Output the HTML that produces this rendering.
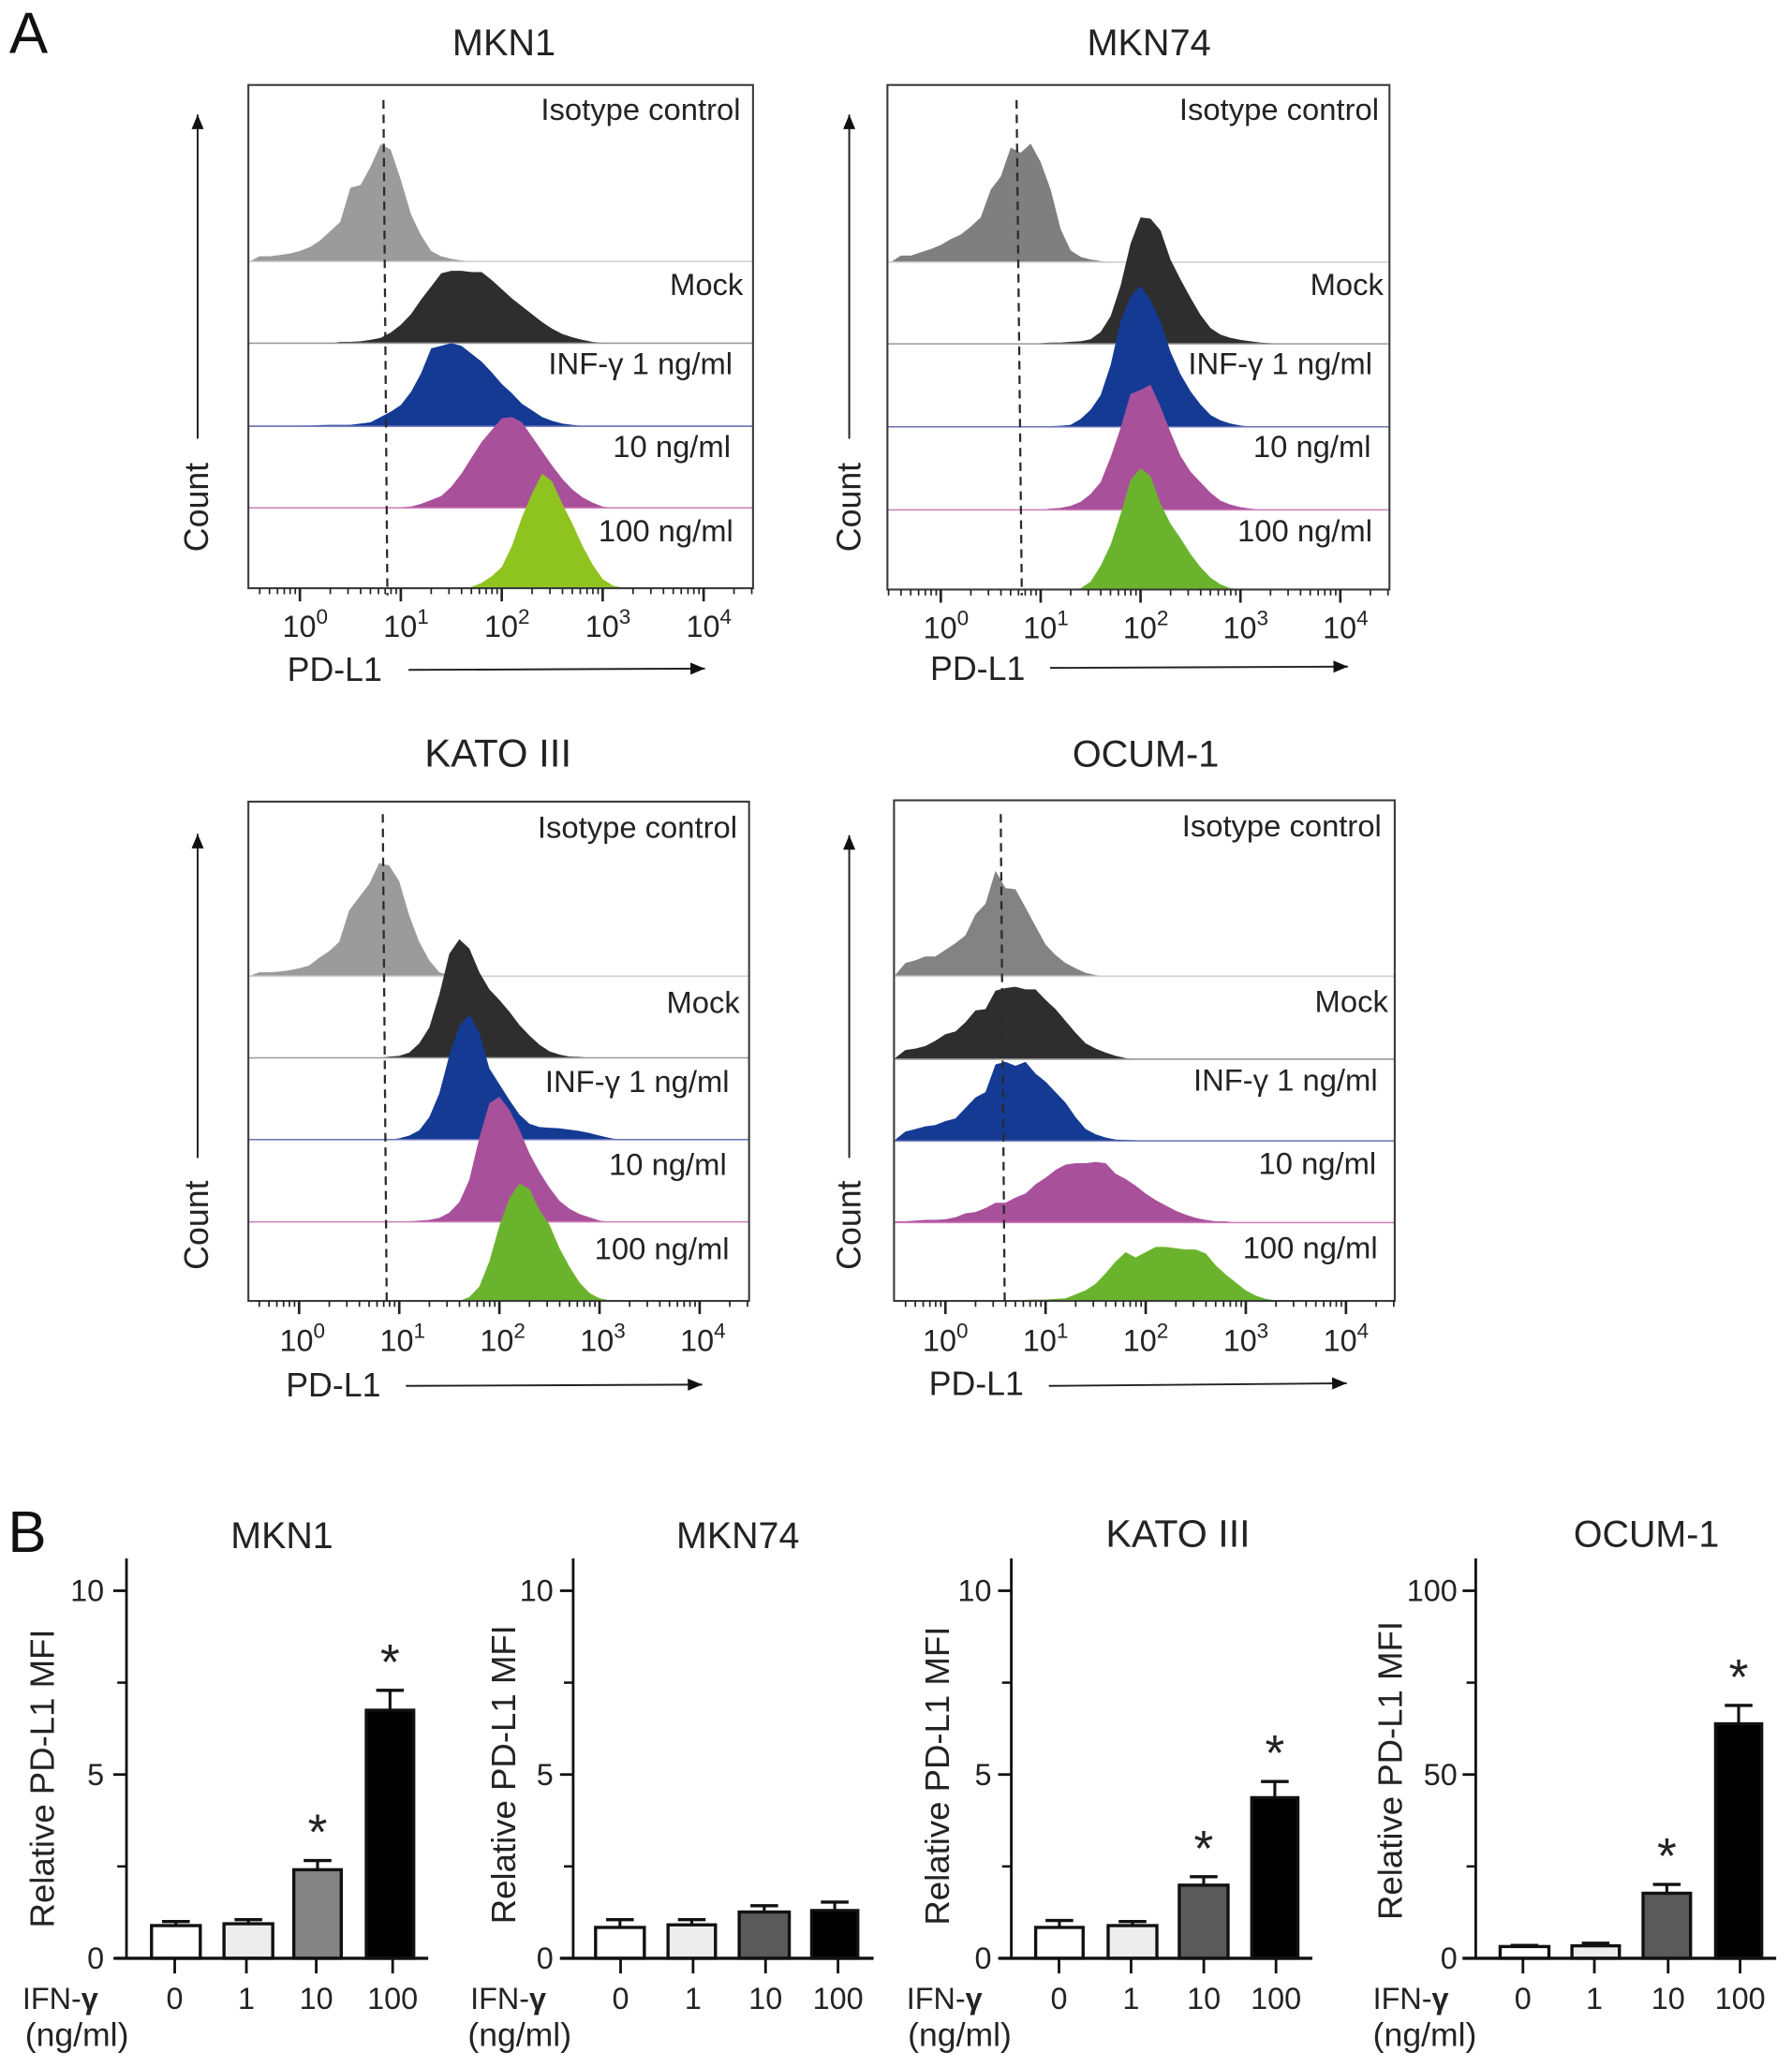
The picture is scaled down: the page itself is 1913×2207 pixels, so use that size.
<!DOCTYPE html>
<html lang="en">
<head>
<meta charset="utf-8">
<title>PD-L1 flow cytometry histograms and relative MFI</title>
<style>
html,body{margin:0;padding:0;background:#fff;}
svg{display:block;width:1913px;height:2207px;}
text{font-family:"Liberation Sans",sans-serif;fill:#232323;}
.title{font-size:28.2px;text-anchor:middle;}
.lane{font-size:23.3px;text-anchor:end;}
.axis-label{font-size:25.4px;}
.panel-letter{font-size:44px;fill:#111;}
.bar-title{font-size:28px;text-anchor:middle;}
.bar-ylabel{font-size:26px;text-anchor:middle;}
.ifn{font-size:23px;}
.unit{font-size:25.3px;}
</style>
</head>
<body>
<svg xmlns="http://www.w3.org/2000/svg" viewBox="0 0 1360 1569">
  <rect x="0" y="0" width="1360" height="1569" fill="#fff"/>
  <text class="panel-letter" x="7" y="40">A</text>
  <text class="panel-letter" x="6" y="1178">B</text>

  <g id="hist-mkn1"></g>
  <g id="hist-mkn74"></g>
  <g id="hist-kato"></g>
  <g id="hist-ocum"></g>

  <g>
    <text class="title" x="382.5" y="42">MKN1</text>
    <text class="lane" x="562" y="91">Isotype control</text>
    <text class="lane" x="564" y="224">Mock</text>
    <text class="lane" x="556" y="284">INF-γ 1 ng/ml</text>
    <text class="lane" x="554.5" y="347">10 ng/ml</text>
    <text class="lane" x="556.5" y="411">100 ng/ml</text>
    <text class="axis-label" x="218" y="517">PD-L1</text>
    <text class="axis-label" transform="translate(158,385) rotate(-90)" text-anchor="middle">Count</text>
  </g>
  <g>
    <text class="title" x="872" y="42">MKN74</text>
    <text class="lane" x="1046.5" y="91">Isotype control</text>
    <text class="lane" x="1050" y="224">Mock</text>
    <text class="lane" x="1041.5" y="284">INF-γ 1 ng/ml</text>
    <text class="lane" x="1040.5" y="347">10 ng/ml</text>
    <text class="lane" x="1041.5" y="411">100 ng/ml</text>
    <text class="axis-label" x="706" y="516">PD-L1</text>
    <text class="axis-label" transform="translate(653,385) rotate(-90)" text-anchor="middle">Count</text>
  </g>
  <g>
    <text class="title" x="378" y="582" style="font-size:29.8px">KATO III</text>
    <text class="lane" x="559.5" y="636">Isotype control</text>
    <text class="lane" x="561.5" y="769">Mock</text>
    <text class="lane" x="553.5" y="829">INF-γ 1 ng/ml</text>
    <text class="lane" x="551.5" y="892">10 ng/ml</text>
    <text class="lane" x="553.5" y="956">100 ng/ml</text>
    <text class="axis-label" x="217" y="1060">PD-L1</text>
    <text class="axis-label" transform="translate(158,930) rotate(-90)" text-anchor="middle">Count</text>
  </g>
  <g>
    <text class="title" x="869.5" y="582">OCUM-1</text>
    <text class="lane" x="1048.5" y="635">Isotype control</text>
    <text class="lane" x="1053.5" y="768">Mock</text>
    <text class="lane" x="1045.5" y="828">INF-γ 1 ng/ml</text>
    <text class="lane" x="1044.5" y="891">10 ng/ml</text>
    <text class="lane" x="1045.5" y="955">100 ng/ml</text>
    <text class="axis-label" x="705" y="1059">PD-L1</text>
    <text class="axis-label" transform="translate(653,930) rotate(-90)" text-anchor="middle">Count</text>
  </g>

  <g id="bars-mkn1"></g>
  <g id="bars-mkn74"></g>
  <g id="bars-kato"></g>
  <g id="bars-ocum"></g>

  <g>
    <text class="bar-title" x="214" y="1175">MKN1</text>
    <text class="bar-ylabel" transform="translate(41,1350) rotate(-90)">Relative PD-L1 MFI</text>
    <text class="ifn" x="17" y="1525">IFN-<tspan font-weight="bold">γ</tspan></text>
    <text class="unit" x="19" y="1553">(ng/ml)</text>
  </g>
  <g>
    <text class="bar-title" x="560" y="1175">MKN74</text>
    <text class="bar-ylabel" transform="translate(391,1347) rotate(-90)">Relative PD-L1 MFI</text>
    <text class="ifn" x="357" y="1525">IFN-<tspan font-weight="bold">γ</tspan></text>
    <text class="unit" x="355" y="1553">(ng/ml)</text>
  </g>
  <g>
    <text class="bar-title" x="894" y="1174" style="font-size:29.3px">KATO III</text>
    <text class="bar-ylabel" transform="translate(720,1348) rotate(-90)">Relative PD-L1 MFI</text>
    <text class="ifn" x="688" y="1525">IFN-<tspan font-weight="bold">γ</tspan></text>
    <text class="unit" x="689" y="1553">(ng/ml)</text>
  </g>
  <g>
    <text class="bar-title" x="1249.5" y="1174">OCUM-1</text>
    <text class="bar-ylabel" transform="translate(1064,1344) rotate(-90)">Relative PD-L1 MFI</text>
    <text class="ifn" x="1042" y="1525">IFN-<tspan font-weight="bold">γ</tspan></text>
    <text class="unit" x="1042" y="1553">(ng/ml)</text>
  </g>
</svg>

<script>
// ---- Histogram data: log10 fluorescence bins and event counts per bin ----
const fluorBins = [-0.5,-0.4,-0.3,-0.2,-0.1,0,0.1,0.2,0.3,0.4,0.5,0.6,0.7,0.8,0.9,1,1.1,1.2,1.3,1.4,1.5,1.6,1.7,1.8,1.9,2,2.1,2.2,2.3,2.4,2.5,2.6,2.7,2.8,2.9,3,3.1,3.2,3.3,3.4,3.5];
const decadeExponents = [0,1,2,3,4];
const minorMultipliers = [2,3,4,5,6,7,8,9];

const mkn1Isotype = [0,4,4,5,6,8,11,16,23,30,56,58,72,89,85,62,36,20,8,4,2,0.8,0.3];
const mkn1Mock = [0,0,0,0,0,0,0,0,0,1,1,1.5,2.5,4,8,14,22,33,43,53,55,55,54,54,48,41,34,28,22,16,11,7,4.5,2.5,1,0.3];
const mkn1Ifn1 = [0,0,0,0,0,0.5,0.5,0.8,1,1,1,2,3,7,11,16,26,40,59,61,63,61,55,49,41,32,25,17,12,7,4,2,1];
const mkn1Ifn10 = [0,0,0,0,0,0,0,0,0,0,0,0,0,0,0.5,0.5,1,3,6,9,16,26,38,50,59,68,69,65,54,43,32,22,14,8,4,1];
const mkn1Ifn100 = [0,0,0,0,0,0,0,0,0,0,0,0,0,0,0,0,0,0,0,0,0,0,1,4,9,16,32,54,72,87,81,64,49,32,18,7,2,0.5];

const mkn74Isotype = [0,5,5,7.5,10,13,17.5,21,27,34,55,65,87,83,90,76,55,25,9,4,2,0.8];
const mkn74Mock = [0,0,0,0,0,0,0,0,0,0,0,0,0,0,0,0.5,1,1,1.5,2,3.5,9,21,44,76,96,95,86,64,49,35,22,12,7,4.5,3,2,1,0.5];
const mkn74Ifn1 = [0,0,0,0,0,0,0,0,0,0,0,0,0,0,0,0,0.5,0.8,1.5,6,13,24,47,80,99,107,96,80,57,40,27,17,9,5,2.5,1,0.3];
const mkn74Ifn10 = [0,0,0,0,0,0,0,0,0,0,0,0,0,0,0,0,1,1.5,3,6,12,21,40,62,88,91,95,78,59,41,29,21,13,7,4,2,1];
const mkn74Ifn100 = [0,0,0,0,0,0,0,0,0,0,0,0,0,0,0,0,0,0,0,1,6,18,34,57,83,92,86,65,50,39,27,17,9,4,1];

const katoIsotype = [0,3,3,3.5,4.5,6,8,14,19,26,50,60,70,86,84,72,46,26,12,3,0.5];
const katoMock = [0,0,0,0,0,0,0,0,0,0,0,0,0,0,1,1.5,4,11,23,48,79,90,83,65,52,44,35,25,17,10,5,2.5,1,0.8];
const katoIfn1 = [0,0,0,0,0,0,0,0,0,0,0,0,0,0,0,1,3,7,17,35,64,86,95,81,54,42,30,19,12,9.5,9,8.5,7.5,6.5,5,3,1.2];
const katoIfn10 = [0,0,0,0,0,0,0,0,0,0,0,0,0,0,0,0,0.5,1,1.5,3,7,15,32,64,90,95,85,70,52,38,26,16,10,6,3.5,1];
const katoIfn100 = [0,0,0,0,0,0,0,0,0,0,0,0,0,0,0,0,0,0,0,0,0,0,3,11,30,57,78,89,85,69,58,40,26,14,6,2,0.5];

const ocumIsotype = [1,10,12,15,15,20,25,31,47,55,80,67,66,52,38,24,16,10,6,2.5,0.8];
const ocumMock = [1,7,8,10,14,19,21,28,37,38,52,54,55,53,53,45,38,29,20,12,8,5,2.5,0.8];
const ocumIfn1 = [1,7,9,11,12,15,17,25,33,37,58,60,57,60,51,45,37,29,18,9,5,2.5,1,0.7,0.5];
const ocumIfn10 = [1,1,1.5,2,2,2.5,4,7,8,11,15,15,19,22,29,34,40,44,45,45,46,45,37,33,28,22,17,13,9,6,3.5,2,1,1];
const ocumIfn100 = [0,0,0,0,0,0,0,0,0,0,0,0,0.5,0.8,1,1,1.5,2,5,8,13,21,30,37,33,37,41,41,40,39,39,36,27,20,14,8,4,1.5,0.5];

// ---- Bar chart data ----
const doseLabels = ['0','1','10','100'];
const mkn1Mfi = [0.89,0.94,2.41,6.75];
const mkn1MfiTop = [1.0,1.05,2.66,7.29];
const mkn1Sig = [0,0,1,1];
const mkn74Mfi = [0.84,0.91,1.26,1.3];
const mkn74MfiTop = [1.05,1.05,1.43,1.53];
const mkn74Sig = [0,0,0,0];
const katoMfi = [0.84,0.89,1.99,4.37];
const katoMfiTop = [1.03,1.0,2.22,4.81];
const katoSig = [0,0,1,1];
const ocumMfi = [3.2,3.4,17.7,63.8];
const ocumMfiTop = [3.5,4.1,20.1,68.8];
const ocumSig = [0,0,1,1];
const yTicksTen = [0,5,10];
const yTicksHundred = [0,50,100];

const NS = 'http://www.w3.org/2000/svg';
function mk(tag, attrs, parent){
  const el = document.createElementNS(NS, tag);
  for (const k in attrs) el.setAttribute(k, attrs[k]);
  parent.appendChild(el);
  return el;
}

const laneFills = ['#939393','#2e2e2e','#143a94','#a9509b','#8fc31f'];
const laneEdges = ['#cfcfcf','#9a9a9a','#6670b8','#cf7cb8','#8fc31f'];

const histPanels = [
  {id:'hist-mkn1', l:188.5,r:571.5,t:64.5,b:446.5, x0:227.6,dec:76.6, labelDx:4, labelDy:37, bases:[198.5,260.5,323.5,385.5,446.5],
   dash:[291,76,294,452], isoFill:'#9b9b9b', green:'#8fc31f',
   series:[mkn1Isotype,mkn1Mock,mkn1Ifn1,mkn1Ifn10,mkn1Ifn100],
   up:[150,333,87], right:[310,508.5,535,507.5]},
  {id:'hist-mkn74', l:673.5,r:1054.5,t:64.5,b:447.5, x0:714,dec:75.8, labelDx:4, labelDy:37, bases:[199,261,324,387,447.5],
   dash:[771.5,76,775.5,452], isoFill:'#7f7f7f', green:'#6ab42d',
   series:[mkn74Isotype,mkn74Mock,mkn74Ifn1,mkn74Ifn10,mkn74Ifn100],
   up:[644.5,333,87], right:[797,507,1023,506]},
  {id:'hist-kato', l:188.5,r:568.5,t:608.5,b:987.5, x0:227,dec:76, labelDx:2.5, labelDy:38, bases:[741,803,865,927.5,987.5],
   dash:[290.5,618,293.5,991], isoFill:'#9b9b9b', green:'#6ab42d',
   series:[katoIsotype,katoMock,katoIfn1,katoIfn10,katoIfn100],
   up:[150,879,633], right:[308,1052,533,1051]},
  {id:'hist-ocum', l:678.5,r:1058.5,t:607.5,b:987.5, x0:717.5,dec:76, labelDx:0, labelDy:38, bases:[741,804,866,928,987.5],
   dash:[759.5,618,762.5,991], isoFill:'#838383', green:'#6ab42d',
   series:[ocumIsotype,ocumMock,ocumIfn1,ocumIfn10,ocumIfn100],
   up:[644.5,879,634], right:[796,1052,1022,1050]}
];

function drawArrow(g, x1, y1, x2, y2){
  const line = mk('line',{x1:x1,y1:y1,x2:x2,y2:y2,stroke:'#222','stroke-width':1.4},g);
  
  
  const a = Math.atan2(y2-y1,x2-x1), len=11, hw=4.6;
  const bx=x2-Math.cos(a)*len, by=y2-Math.sin(a)*len;
  const px=-Math.sin(a)*hw, py=Math.cos(a)*hw;
  const head = mk('polygon',{points:x2+','+y2+' '+(bx+px)+','+(by+py)+' '+(bx-px)+','+(by-py),fill:'#111'},g);
  
  
}

histPanels.forEach(function(p){
  const g = document.getElementById(p.id);
  const xScale = function(v){ return p.x0 + v*p.dec; };
  const yScale = function(c, base){ return base - c; };

  const plotBg = mk('rect',{x:p.l,y:p.t,width:p.r-p.l,height:p.b-p.t,fill:'#fff'},g);
  
  

  p.series.forEach(function(counts, s){
    const base = p.bases[s];
    const fill = s===0 ? p.isoFill : (s===4 ? p.green : laneFills[s]);
    const pts = [xScale(fluorBins[0])+','+base];
    fluorBins.forEach(function(bin,i){
      pts.push(xScale(bin).toFixed(1)+','+yScale(counts[i]||0,base).toFixed(1));
    });
    pts.push(xScale(fluorBins[fluorBins.length-1])+','+base);
    const poly = mk('polygon',{points:pts.join(' '),fill:fill},g);
    
    
    if (s<4){
      const bl = mk('line',{x1:p.l,x2:p.r,y1:base,y2:base,stroke:laneEdges[s],'stroke-width':1.1},g);
      
      
    }
  });

  const box = mk('rect',{x:p.l,y:p.t,width:p.r-p.l,height:p.b-p.t,fill:'none',stroke:'#3c3c3c','stroke-width':1.5},g);
  
  

  [-1].concat(decadeExponents).forEach(function(e){
    minorMultipliers.forEach(function(m){
      const v = e + Math.log10(m);
      if (xScale(v) < p.l || xScale(v) > p.r) return;
      const t = mk('line',{x1:xScale(v),x2:xScale(v),y1:p.b,y2:p.b+4.5,stroke:'#222','stroke-width':1.2},g);
      
      
    });
  });
  decadeExponents.forEach(function(e){
    const t = mk('line',{x1:xScale(e),x2:xScale(e),y1:p.b,y2:p.b+10,stroke:'#222','stroke-width':1.9},g);
    
    
    const lab = mk('text',{x:xScale(e)+p.labelDx,y:p.b+p.labelDy,'text-anchor':'middle','font-size':23},g);
    
    
    const ts1 = mk('tspan',{},lab);
    ts1.textContent = '10';
    const ts2 = mk('tspan',{dy:-10,'font-size':16},lab);
    ts2.textContent = String(e);
  });

  const dash = mk('line',{x1:p.dash[0],y1:p.dash[1],x2:p.dash[2],y2:p.dash[3],stroke:'#2a2a2a','stroke-width':1.6,'stroke-dasharray':'6.5 4.5'},g);
  
  

  drawArrow(g,p.up[0],p.up[1],p.up[0],p.up[2]);
  drawArrow(g,p.right[0],p.right[1],p.right[2],p.right[3]);
});

const barFillsDefault = ['#ffffff','#ededed','#5a5a5a','#000000'];
const barPanels = [
  {id:'bars-mkn1', axis:96, left:87, right:325, labelDx:0, ticks:[132.6,187,240,298], edges:[[115,152],[170,207],[223,259],[278,314]],
   vals:mkn1Mfi, tops:mkn1MfiTop, sig:mkn1Sig, max:10, yt:yTicksTen, fills:['#ffffff','#ededed','#848484','#000000']},
  {id:'bars-mkn74', axis:435, left:425, right:663, labelDx:2, ticks:[471,526,581,636], edges:[[452,489],[507,543],[561,599],[616,651]],
   vals:mkn74Mfi, tops:mkn74MfiTop, sig:mkn74Sig, max:10, yt:yTicksTen, fills:barFillsDefault},
  {id:'bars-kato', axis:767.5, left:758, right:996, labelDx:2, ticks:[803.7,858.4,913.6,968.4], edges:[[786,822],[841,878],[895,932],[950,985]],
   vals:katoMfi, tops:katoMfiTop, sig:katoSig, max:10, yt:yTicksTen, fills:barFillsDefault},
  {id:'bars-ocum', axis:1120, left:1110, right:1348, labelDx:3, ticks:[1155.8,1210,1266,1320.6], edges:[[1138.5,1175.5],[1193,1229],[1247,1283],[1302,1337]],
   vals:ocumMfi, tops:ocumMfiTop, sig:ocumSig, max:100, yt:yTicksHundred, fills:barFillsDefault}
];

barPanels.forEach(function(p){
  const g = document.getElementById(p.id);
  const yScale = function(v){ return 1486.5 - v/p.max*279; };

  p.vals.forEach(function(v,i){
    const e = p.edges[i], cx = (e[0]+e[1])/2;
    const stem = mk('line',{x1:cx,x2:cx,y1:yScale(v),y2:yScale(p.tops[i]),stroke:'#111','stroke-width':2.2},g);
    
    
    const cap = mk('line',{x1:cx-10.5,x2:cx+10.5,y1:yScale(p.tops[i]),y2:yScale(p.tops[i]),stroke:'#111','stroke-width':2.4},g);
    
    
    const bar = mk('rect',{x:e[0],y:yScale(v),width:e[1]-e[0],height:yScale(0)-yScale(v),fill:p.fills[i],stroke:'#111','stroke-width':2.4},g);
    
    
    if (p.sig[i]){
      const star = mk('text',{x:cx,y:yScale(p.tops[i])-27+18.5,'text-anchor':'middle','font-size':38},g);
      
      
      star.textContent = '*';
    }
    const tick = mk('line',{x1:p.ticks[i],x2:p.ticks[i],y1:1486,y2:1498,stroke:'#111','stroke-width':2},g);
    
    
    const lab = mk('text',{x:p.ticks[i],y:1525,'text-anchor':'middle','font-size':23},g);
    
    
    lab.textContent = doseLabels[i];
  });

  const yAxis = mk('line',{x1:p.axis,x2:p.axis,y1:1183,y2:1487,stroke:'#111','stroke-width':2},g);
  
  
  const xAxis = mk('line',{x1:p.left,x2:p.right,y1:1486.5,y2:1486.5,stroke:'#111','stroke-width':2.4},g);
  
  

  p.yt.forEach(function(v){
    const t = mk('line',{x1:p.axis-10,x2:p.axis,y1:yScale(v),y2:yScale(v),stroke:'#111','stroke-width':2},g);
    
    
    const lab = mk('text',{x:p.axis-17+p.labelDx,y:yScale(v)+8,'text-anchor':'end','font-size':23},g);
    
    
    lab.textContent = String(v);
    if (v < p.max){
      const half = v + p.max/4;
      const m = mk('line',{x1:p.axis-7,x2:p.axis,y1:yScale(half),y2:yScale(half),stroke:'#111','stroke-width':1.8},g);
      
      
    }
  });
});
</script>
</body>
</html>
